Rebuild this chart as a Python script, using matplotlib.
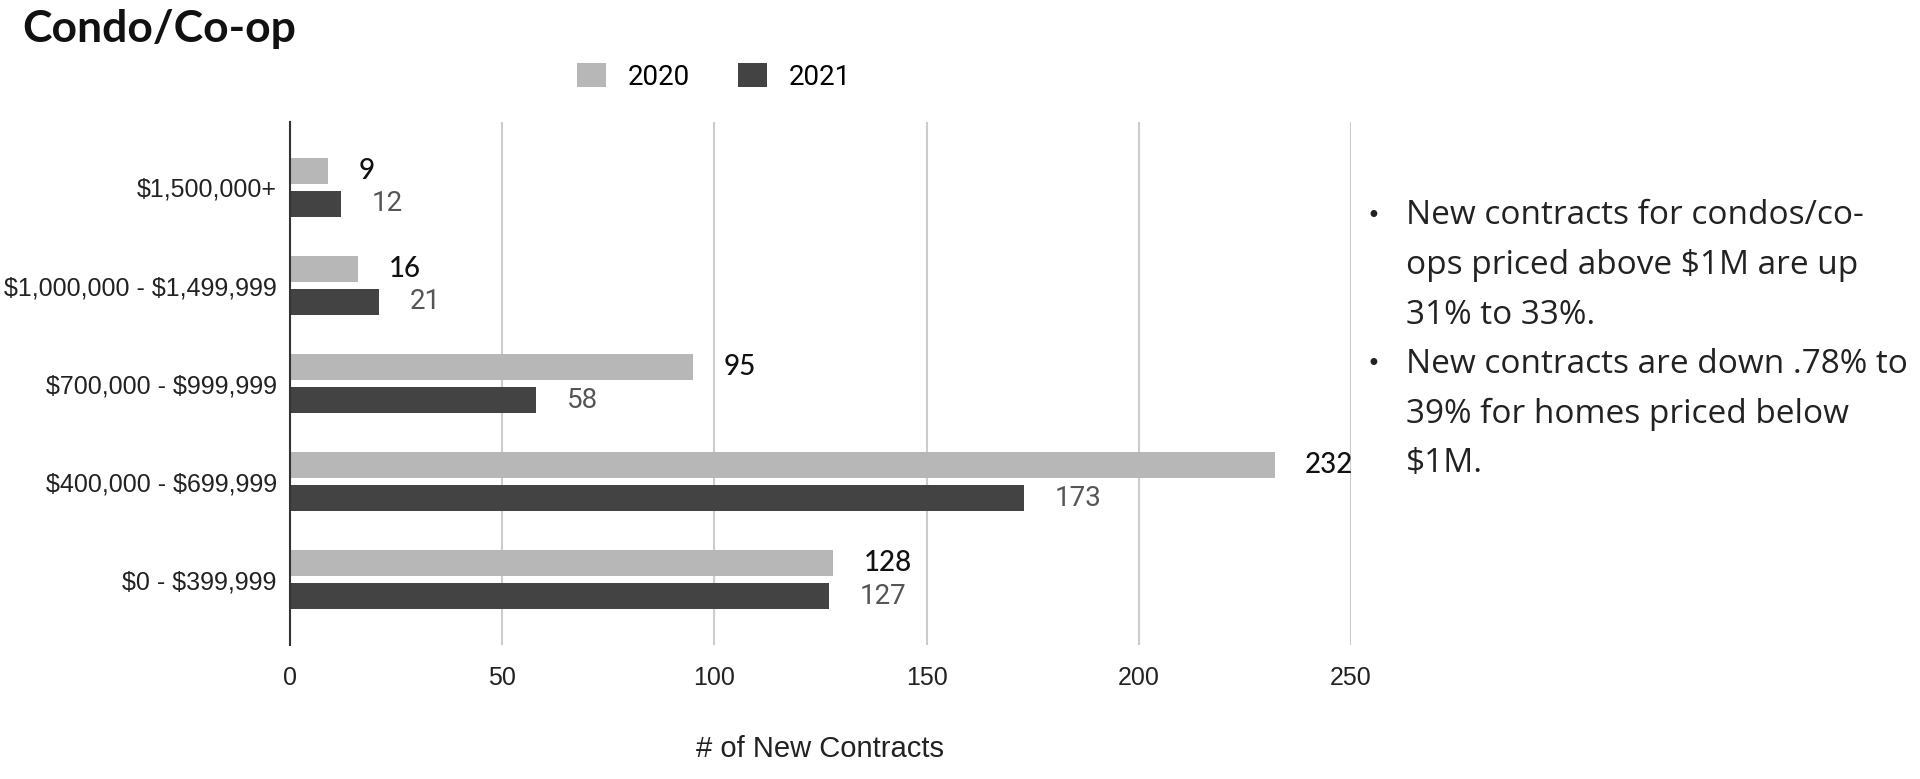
import matplotlib
matplotlib.use("Agg")
import matplotlib.pyplot as plt
from matplotlib.patches import Patch
import numpy as np

plt.rcParams["text.parse_math"] = False

# ---- data ----
categories = ["$1,500,000+", "$1,000,000 - $1,499,999", "$700,000 - $999,999",
              "$400,000 - $699,999", "$0 - $399,999"]
values_2020 = [9, 16, 95, 232, 128]
values_2021 = [12, 21, 58, 173, 127]
series_names = ["2020", "2021"]
x_ticks = [0, 50, 100, 150, 200, 250]
title_text = "Condo/Co-op"
x_label = "# of New Contracts"
bullet_lines = [
    ["New contracts for condos/co-", "ops priced above $1M are up", "31% to 33%."],
    ["New contracts are down .78% to", "39% for homes priced below", "$1M."],
]

# ---- styles ----
c2020 = "#b7b7b7"
c2021 = "#434343"
W, H = 1920, 779
fig = plt.figure(figsize=(W / 100, H / 100), dpi=100)
fig.patch.set_facecolor("white")

ax_left, ax_right, ax_top, ax_bottom = 290, 1351, 122, 645
ax = fig.add_axes([ax_left / W, 1 - ax_bottom / H,
                   (ax_right - ax_left) / W, (ax_bottom - ax_top) / H])

y = np.arange(len(categories))
h = 0.265
off = 0.168
ax.barh(y - off, values_2020, height=h, color=c2020, zorder=3)
ax.barh(y + off, values_2021, height=h, color=c2021, zorder=3)

for yi, v in zip(y, values_2020):
    ax.annotate(str(v), xy=(v, yi - off), xytext=(22, 0), textcoords="offset points",
                ha="left", va="center", fontsize=20, color="#111111", fontweight=500,
                family=["Lato", "DejaVu Sans"], zorder=4)
for yi, v in zip(y, values_2021):
    ax.annotate(str(v), xy=(v, yi + off), xytext=(22, 0), textcoords="offset points",
                ha="left", va="center", fontsize=20, color="#555555",
                family=["Roboto", "DejaVu Sans"], zorder=4)

ax.set_xlim(0, 250)
ax.set_xticks(x_ticks)
ax.set_ylim(4.665, -0.667)
ax.set_yticks(y)
ax.set_yticklabels(categories)
ax.grid(axis="x", color="#cccccc", linewidth=1.5, zorder=0)
ax.grid(axis="y", visible=False)
ax.set_axisbelow(True)
for s in ["top", "right", "bottom"]:
    ax.spines[s].set_visible(False)
ax.spines["left"].set_color("#333333")
ax.spines["left"].set_linewidth(1.5)
ax.spines["left"].set_zorder(5)
ax.tick_params(axis="both", length=0)
ax.tick_params(axis="y", pad=9.5)
ax.tick_params(axis="x", pad=15)
for lab in ax.get_yticklabels():
    lab.set_family(["Liberation Sans", "DejaVu Sans"])
    lab.set_fontsize(18)
    lab.set_color("#222222")
for lab in ax.get_xticklabels():
    lab.set_family(["Liberation Sans", "DejaVu Sans"])
    lab.set_fontsize(18)
    lab.set_color("#222222")

ax.set_xlabel(x_label, fontsize=21, family=["Liberation Sans", "DejaVu Sans"],
              color="#222222")
ax.xaxis.set_label_coords(0.5, -(749 - ax_bottom) / (ax_bottom - ax_top))
ax.xaxis.label.set_va("center")

# legend
handles = [Patch(facecolor=c2020), Patch(facecolor=c2021)]
fig.legend(handles, series_names, loc="center", bbox_to_anchor=(714 / W, 1 - 77 / H),
           ncol=2, frameon=False, prop={"family": "Roboto", "size": 20},
           handlelength=1.05, handleheight=0.95, handletextpad=0.8, columnspacing=1.7)

# title
fig.text(22 / W, 1 - 42 / H, title_text, fontsize=32, fontweight="bold",
         family=["Lato", "DejaVu Sans"], ha="left", va="baseline", color="#111111")

# bullet notes
line_y0 = 216
line_step = 49.5
i = 0
for lines in bullet_lines:
    for j, line in enumerate(lines):
        yy = 1 - (line_y0 + i * line_step) / H
        if j == 0:
            fig.text(1366 / W, yy, "•", fontsize=17, family=["DejaVu Sans"],
                     ha="left", va="center", color="#222222")
        fig.text(1406 / W, yy, line, fontsize=24, family=["Open Sans", "DejaVu Sans"],
                 ha="left", va="center", color="#222222")
        i += 1

fig.savefig("out.png", dpi=100, facecolor="white")
